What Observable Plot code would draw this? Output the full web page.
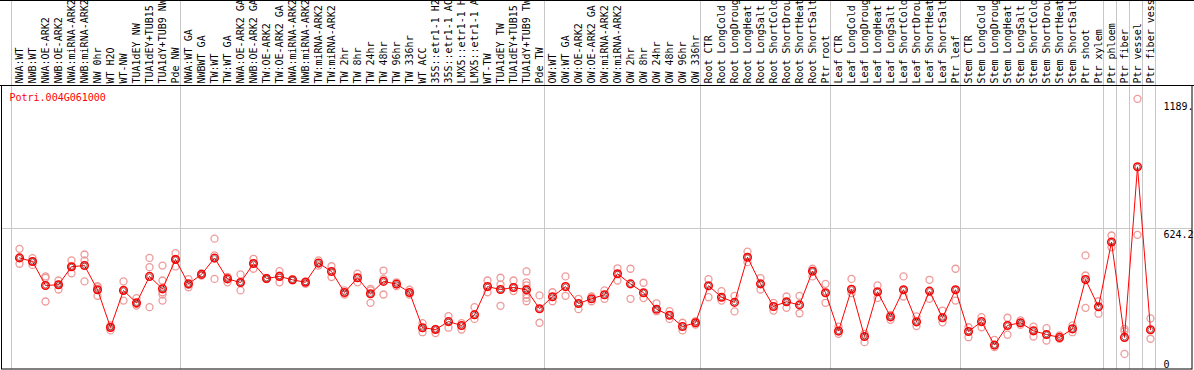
<!DOCTYPE html>
<html><head><meta charset="utf-8">
<script src="https://cdn.jsdelivr.net/npm/d3@7"></script>
<script src="https://cdn.jsdelivr.net/npm/@observablehq/plot@0.6"></script>
<style>body{margin:0;background:#fff;} svg{display:block}</style>
</head><body><div id="chart"></div>
<script>
const geneName = "Potri.004G061000";
const labels = ["NWA:WT","NWB:WT","NWA:OE-ARK2","NWB:OE-ARK2","NWA:miRNA-ARK2","NWB:miRNA-ARK2","NW 0hr","WT H2O","WT-NW","TUA1dEY NW","TUA1dEY+TUB15","TUA1dY+TUB9 NW","Pde NW",
"NWA:WT GA","NWBWT GA","TW:WT","TW:WT GA","NWA:OE-ARK2 GA","NWB:OE-ARK2 GA","TW:OE-ARK2","TW:OE-ARK2 GA","NWA:miRNA-ARK2","NWB:miRNA-ARK2","TW:miRNA-ARK2","TW:miRNA-ARK2","TW 2hr","TW 8hr","TW 24hr","TW 48hr","TW 96hr","TW 336hr","WT ACC","35S::etr1-1 H2O","35S::etr1-1 ACC","LMX5::etr1-1 H2O","LMX5::etr1-1 ACC","WT-TW","TUA1dEY TW","TUA1dEY+TUB15","TUA1dY+TUB9 TW","Pde TW",
"OW:WT","OW:WT GA","OW:OE-ARK2","OW:OE-ARK2 GA","OW:miRNA-ARK2","OW:miRNA-ARK2","OW 2hr","OW 8hr","OW 24hr","OW 48hr","OW 96hr","OW 336hr",
"Root CTR","Root LongCold","Root LongDrought","Root LongHeat","Root LongSalt","Root ShortCold","Root ShortDrought","Root ShortHeat","Root ShortSalt","Ptr root",
"Leaf CTR","Leaf LongCold","Leaf LongDrought","Leaf LongHeat","Leaf LongSalt","Leaf ShortCold","Leaf ShortDrought","Leaf ShortHeat","Leaf ShortSalt","Ptr leaf",
"Stem CTR","Stem LongCold","Stem LongDrought","Stem LongHeat","Stem LongSalt","Stem ShortCold","Stem ShortDrought","Stem ShortHeat","Stem ShortSalt","Ptr shoot","Ptr xylem",
"Ptr phloem","Ptr fiber","Ptr vessel","Ptr fiber vessel"];
const means = [494,478,372,375,455,460,353,186,350,295,412,357,487,
379,421,493,401,385,469,403,412,397,386,471,434,341,406,335,390,378,341,185,177,212,195,242,367,354,363,353,269,
322,367,292,313,331,424,379,340,267,240,190,207,
371,320,297,497,379,279,300,286,435,340,
170,355,146,344,233,353,211,347,229,353,
168,212,108,195,207,171,155,142,180,398,278,
564,142,897,176];
const reps = [[534,468,494],[493,463,478],[412,406,301],[394,354,375],[483,426,455],[509,483,390],[369,326,365],[195,173,190],[390,305,350],[316,283,290],[494,453,276],[460,394,342,332,305],[515,456,490],
[400,364,375],[425,416,421],[579,505,401],[406,386,410],[421,350,385],[490,446,470],[405,400],[435,386,415],[397,395],[379,390],[483,460],[457,409],[350,332],[424,386],[357,295,350],[438,332,400],[386,369],[353,332],[205,165],[161,180],[236,185],[205,177],[276,224],[394,342],[406,376,282],[394,347],[434,386,372,332,317,302],[328,207],
[342,302],[412,326],[313,267],[323,302],[350,313],[448,394],[446,313],[384,316],[293,258],[258,224],[207,173],[214,199],
[400,320],[347,305],[326,257],[522,475],[404,354],[295,261],[323,273],[326,249],[446,412],[379,295],
[190,158],[401,338],[158,121],[372,317],[242,220],[412,323],[235,192],[397,313],[261,209],[446,305],
[187,143],[232,187],[131,99],[229,154],[217,198],[190,146],[183,128],[151,136],[195,165],[505,416,273],[302,247],
[593,541],[180,170,69],[1198,596],[226,136]];
const groupStarts = [0,13,41,53,63,73,84,85,86,87,88];
const tickValues = [1189, 624.2, 0];
const tickLabels = ["1189.", "624.2", "0"];
const yMax = 1257;

const meanData = means.map((v,i)=>({i, v}));
const repData = reps.flatMap((arr,i)=>arr.map(v=>({i, v})));
const ticks = tickValues.map((v,k)=>({v, label: tickLabels[k]}));
const last = labels.length - 1;

const chart = Plot.plot({
  width: 1194, height: 370,
  marginTop: 0, marginBottom: 1, marginLeft: 1, marginRight: 2,
  x: {type: "linear", domain: [0, last], range: [19, 19 + 13 * last], axis: null},
  y: {domain: [0, yMax], range: [369, 85], axis: null},
  style: {fontFamily: "'DejaVu Sans Mono', monospace", fontSize: "10px", background: "#fff", overflow: "hidden"},
  marks: [
    Plot.ruleX(groupStarts, {x: d => d - 8/13, stroke: "#c8c8c8", strokeWidth: 1}),
    Plot.ruleY([624.2], {stroke: "#c8c8c8"}),
    Plot.text(labels, {x: (d, i) => i, y: yMax, text: d => d, rotate: -90, textAnchor: "start", dy: -2, fill: "black"}),
    Plot.text([geneName], {frameAnchor: "left", y: yMax, text: d => d, textAnchor: "start", dx: 8, dy: 12, fill: "red"}),
    Plot.text(ticks.filter(d => d.v > 0), {x: () => last, y: "v", text: "label", textAnchor: "start", lineAnchor: "top", dx: 13, dy: 2, fill: "black"}),
    Plot.text(ticks.filter(d => d.v === 0), {x: () => last, y: "v", text: "label", textAnchor: "start", lineAnchor: "bottom", dx: 13, dy: -2, fill: "black"}),
    Plot.dot(repData, {x: "i", y: "v", r: 3.5, stroke: "#ee9a9a", strokeWidth: 1.3, fill: "none"}),
    Plot.line(meanData, {x: "i", y: "v", stroke: "red", strokeWidth: 1}),
    Plot.dot(meanData, {x: "i", y: "v", r: 3.8, stroke: "red", strokeWidth: 1.5, fill: "none"}),
    Plot.dot(meanData, {x: "i", y: "v", r: 2.5, stroke: "#400", strokeWidth: 0.7, fill: "none", strokeOpacity: 0.8})
  ]
});
document.getElementById("chart").appendChild(chart);

// frame lines derived from the y scale range
const [yb, yt] = chart.scale("y").range;
const svg = d3.select(chart);
svg.append("rect").attr("x", 1.5).attr("y", yt + 0.5).attr("width", 1190.5).attr("height", yb - yt - 0.5)
  .attr("fill", "none").attr("stroke", "black");
svg.append("line").attr("x1", 0).attr("x2", 1194).attr("y1", yt + 0.5).attr("y2", yt + 0.5).attr("stroke", "black");
svg.append("line").attr("x1", 0).attr("x2", 1194).attr("y1", 0.5).attr("y2", 0.5).attr("stroke", "black");
</script>
</body></html>
